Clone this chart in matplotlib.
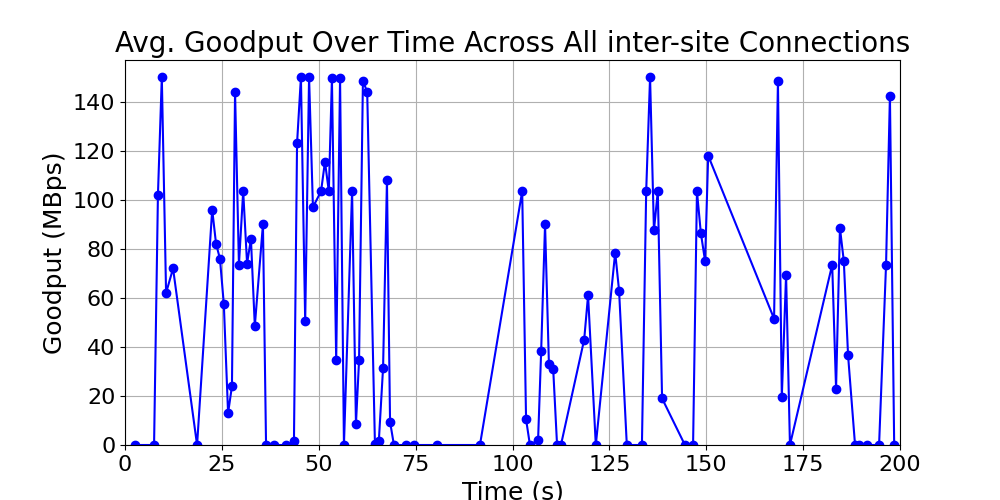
import matplotlib
matplotlib.use("Agg")
import matplotlib.pyplot as plt

times = [2.6, 7.5, 8.5, 9.5, 10.6, 12.4, 18.6, 22.5, 23.5, 24.5, 25.5, 26.6, 27.6, 28.4, 29.4, 30.5,
         31.5, 32.5, 33.5, 35.6, 36.4, 38.5, 41.5, 43.6, 44.4, 45.4, 46.5, 47.5, 48.5, 50.6, 51.6,
         52.6, 53.4, 54.5, 55.5, 56.5, 58.6, 59.6, 60.4, 61.4, 62.5, 64.5, 65.5, 66.6, 67.6, 68.4,
         69.4, 72.5, 74.6, 80.5, 91.6, 102.5, 103.5, 104.5, 106.6, 107.4, 108.4, 109.4, 110.5,
         111.5, 112.5, 118.5, 119.5, 121.5, 126.5, 127.5, 129.5, 133.4, 134.5, 135.5, 136.5, 137.5,
         138.6, 144.5, 146.6, 147.6, 148.6, 149.7, 150.5, 167.5, 168.5, 169.5, 170.6, 171.6, 182.5,
         183.5, 184.5, 185.5, 186.6, 188.4, 189.4, 191.5, 194.6, 196.4, 197.4, 198.5]
goodput = [0, 0, 102, 150, 62, 72, 0, 96, 82, 76, 57.5, 13, 24, 144, 73.5, 103.5,
           74, 84, 48.5, 90, 0, 0, 0, 1.5, 123, 150, 50.5, 150, 97, 103.5, 115.5,
           103.5, 149.5, 34.5, 149.5, 0, 103.5, 8.5, 34.5, 148.5, 144, 0.5, 1.5, 31.5, 108, 9.5,
           0, 0, 0, 0, 0, 103.5, 10.5, 0, 2, 38.5, 90, 33, 31,
           0, 0, 43, 61, 0, 78.5, 63, 0, 0, 103.5, 150, 87.5, 103.5,
           19, 0, 0, 103.5, 86.5, 75, 118, 51.5, 148.5, 19.5, 69.5, 0, 73.5,
           23, 88.5, 75, 36.5, 0, 0, 0, 0, 73.5, 142.5, 0]

fig, ax = plt.subplots(figsize=(10, 5), dpi=100)
ax.plot(times, goodput, color='blue', marker='o', markersize=6, linewidth=1.5)
ax.set_xlim(0, 200)
ax.set_ylim(0, 157)
ax.grid(True)
ax.set_title("Avg. Goodput Over Time Across All inter-site Connections", fontsize=20)
ax.set_xlabel("Time (s)", fontsize=18)
ax.set_ylabel("Goodput (MBps)", fontsize=18)
ax.tick_params(labelsize=16)
fig.savefig("out.png")
